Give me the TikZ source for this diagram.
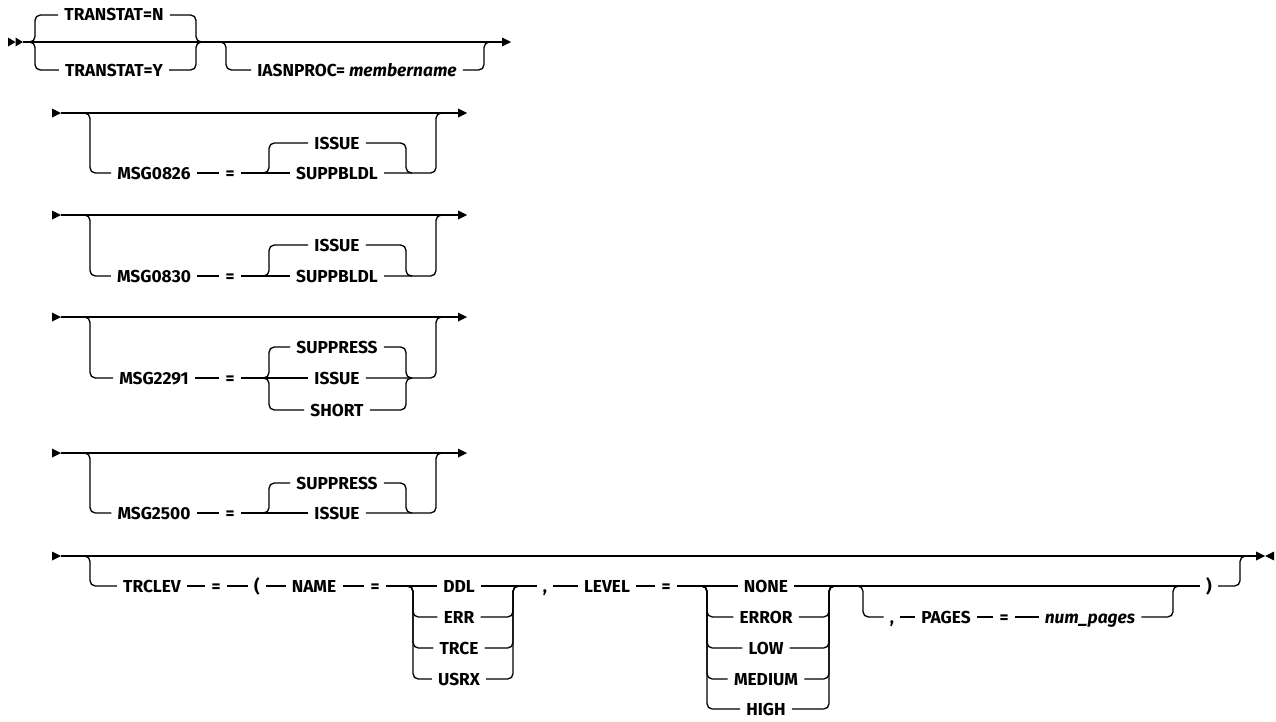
\documentclass[tikz,border=0pt]{standalone}
\usepackage{fontspec}
\setmainfont{Fira Sans}
\newcommand\rtri[1]{\fill (#1) ++(0,-4.5) -- ++(9,4.5) -- ++(-9,4.5) -- cycle;}
\newcommand\ltri[1]{\fill (#1) ++(0,-4.5) -- ++(-9,4.5) -- ++(9,4.5) -- cycle;}
% two-option optional row: id, main y, top y, bottom y, keyword, top option, bottom option
\newcommand\tworow[7]{%
  \coordinate (#1s) at (52,#2);
  \coordinate (#1a) at (61,#2);
  \coordinate (#1e) at (458,#2);
  \rtri{#1s}
  \draw[rail] (#1a) -- (#1e);
  \rtri{#1e}
  \node[lbl] (#1m) at (154,#4) {#5};
  \node[lbl] (#1q) at (230,#4) {=};
  \node[lbl] (#1t) at (337,#3) {#6};
  \node[lbl] (#1b) at (337,#4) {#7};
  \coordinate (#1f) at (84,#2); \coordinate (#1fv) at (90,#2);
  \draw[rail] (#1f) -- (#1fv) |- (#1m.west);
  \draw[rail] (#1m.east) -- (#1q.west);
  \draw[rail] (#1q.east) -- (#1b.west);
  \coordinate (#1g) at (263,#4); \coordinate (#1gv) at (269,#4);
  \draw[rail] (#1g) -- (#1gv) |- (#1t.west);
  \coordinate (#1hv) at (406,#4); \coordinate (#1h) at (412,#4);
  \draw[rail] (#1t.east) -| (#1hv) -- (#1h);
  \coordinate (#1jv) at (436,#2); \coordinate (#1j) at (442,#2);
  \draw[rail] (#1b.east) -| (#1jv) -- (#1j);
}
\begin{document}
\begin{tikzpicture}[x=0.75pt,y=-0.75pt,
  rail/.style={line width=1pt, rounded corners=4pt},
  lbl/.style={font=\bfseries\fontsize{13}{15}\selectfont, inner xsep=4.5pt, inner ysep=0pt,
              text height=9pt, text depth=0pt, anchor=center}]
\useasboundingbox (0,0) rectangle (1276,721);

% ---------- row 1 ----------
\coordinate (s1) at (8,42);
\fill (s1) ++(0,-4.5) -- ++(7.5,4.5) -- ++(-7.5,4.5) -- cycle;
\fill (s1) ++(7.5,-4.5) -- ++(7.5,4.5) -- ++(-7.5,4.5) -- cycle;
\coordinate (s1a) at (23,42);
\coordinate (e1) at (502,42);
\draw[rail] (s1a) -- (e1);
\rtri{e1}
\node[lbl] (tn) at (114,15) {TRANSTAT=N};
\node[lbl] (ty) at (114,70) {TRANSTAT=Y};
\coordinate (f1) at (29,42); \coordinate (f1v) at (35,42);
\draw[rail] (f1) -- (f1v) |- (tn.west);
\draw[rail] (f1) -- (f1v) |- (ty.west);
\coordinate (j1v) at (196,42); \coordinate (j1) at (202,42);
\draw[rail] (tn.east) -| (j1v) -- (j1);
\draw[rail] (ty.east) -| (j1v) -- (j1);
\node[lbl] (ia) at (357,70) {IASNPROC= \textit{membername}};
\coordinate (f2) at (220,42); \coordinate (f2v) at (226,42);
\draw[rail] (f2) -- (f2v) |- (ia.west);
\coordinate (j2v) at (484,42); \coordinate (j2) at (490,42);
\draw[rail] (ia.east) -| (j2v) -- (j2);

% ---------- rows 2, 3, 5 ----------
\tworow{r2}{113}{143}{173}{MSG0826}{ISSUE}{SUPPBLDL}
\tworow{r3}{215}{245}{276}{MSG0830}{ISSUE}{SUPPBLDL}
\tworow{r5}{453}{483}{513}{MSG2500}{SUPPRESS}{ISSUE}

% ---------- row 4 ----------
\coordinate (r4s) at (52,317);
\coordinate (r4a) at (61,317);
\coordinate (r4e) at (458,317);
\rtri{r4s}
\draw[rail] (r4a) -- (r4e);
\rtri{r4e}
\node[lbl] (r4m) at (154,378) {MSG2291};
\node[lbl] (r4q) at (230,378) {=};
\node[lbl] (r4t) at (337,347) {SUPPRESS};
\node[lbl] (r4b) at (337,378) {ISSUE};
\node[lbl] (r4c) at (337,410) {SHORT};
\coordinate (r4f) at (84,317); \coordinate (r4fv) at (90,317);
\draw[rail] (r4f) -- (r4fv) |- (r4m.west);
\draw[rail] (r4m.east) -- (r4q.west);
\draw[rail] (r4q.east) -- (r4b.west);
\coordinate (r4g) at (263,378); \coordinate (r4gv) at (269,378);
\draw[rail] (r4g) -- (r4gv) |- (r4t.west);
\draw[rail] (r4g) -- (r4gv) |- (r4c.west);
\coordinate (r4hv) at (406,378); \coordinate (r4h) at (412,378);
\draw[rail] (r4t.east) -| (r4hv) -- (r4h);
\draw[rail] (r4c.east) -| (r4hv) -- (r4h);
\coordinate (r4jv) at (436,317); \coordinate (r4j) at (442,317);
\draw[rail] (r4b.east) -| (r4jv) -- (r4j);

% ---------- row 6 ----------
\coordinate (r6s) at (52,556);
\coordinate (r6a) at (61,556);
\coordinate (r6e) at (1256,556);
\rtri{r6s}
\draw[rail] (r6a) -- (r6e);
\rtri{r6e}
\coordinate (r6x) at (1274,556);
\ltri{r6x}
% main sequence
\node[lbl] (trc) at (152,586) {TRCLEV};
\node[lbl] (q6a) at (216,586) {=};
\node[lbl] (lp)  at (257,586) {(};
\node[lbl] (nm)  at (314,586) {NAME};
\node[lbl] (q6b) at (375,586) {=};
\node[lbl] (ddl) at (459,586) {DDL};
\node[lbl] (err) at (459,617) {ERR};
\node[lbl] (trce) at (459,648) {TRCE};
\node[lbl] (usrx) at (459,679) {USRX};
\node[lbl] (cm1) at (545,586) {,};
\node[lbl] (lv)  at (607,586) {LEVEL};
\node[lbl] (q6c) at (666,586) {=};
\node[lbl] (none) at (766,586) {NONE};
\node[lbl] (error) at (766,617) {ERROR};
\node[lbl] (low) at (766,648) {LOW};
\node[lbl] (med) at (766,679) {MEDIUM};
\node[lbl] (high) at (766,709) {HIGH};
\node[lbl] (cm2) at (892,617) {,};
\node[lbl] (pg)  at (946,617) {PAGES};
\node[lbl] (q6d) at (1004,617) {=};
\node[lbl] (np)  at (1090,617) {\textit{num\_pages}};
\node[lbl] (rp)  at (1209,586) {)};
% outer optional
\coordinate (r6f) at (84,556); \coordinate (r6fv) at (90,556);
\draw[rail] (r6f) -- (r6fv) |- (trc.west);
\draw[rail] (trc.east) -- (q6a.west);
\draw[rail] (q6a.east) -- (lp.west);
\draw[rail] (lp.east) -- (nm.west);
\draw[rail] (nm.east) -- (q6b.west);
\draw[rail] (q6b.east) -- (ddl.west);
% name choice
\coordinate (n6f) at (407,586); \coordinate (n6fv) at (413,586);
\foreach \o in {err,trce,usrx} \draw[rail] (n6f) -- (n6fv) |- (\o.west);
\coordinate (n6jv) at (513,586); \coordinate (n6j) at (519,586);
\foreach \o in {err,trce,usrx} \draw[rail] (\o.east) -| (n6jv) -- (n6j);
\draw[rail] (ddl.east) -- (cm1.west);
\draw[rail] (cm1.east) -- (lv.west);
\draw[rail] (lv.east) -- (q6c.west);
\draw[rail] (q6c.east) -- (none.west);
% level choice
\coordinate (l6f) at (701,586); \coordinate (l6fv) at (707,586);
\foreach \o in {error,low,med,high} \draw[rail] (l6f) -- (l6fv) |- (\o.west);
\coordinate (l6jv) at (829,586); \coordinate (l6j) at (835,586);
\foreach \o in {error,low,med,high} \draw[rail] (\o.east) -| (l6jv) -- (l6j);
\draw[rail] (none.east) -- (rp.west);
% pages optional
\coordinate (p6f) at (857,586); \coordinate (p6fv) at (863,586);
\draw[rail] (p6f) -- (p6fv) |- (cm2.west);
\draw[rail] (cm2.east) -- (pg.west);
\draw[rail] (pg.east) -- (q6d.west);
\draw[rail] (q6d.east) -- (np.west);
\coordinate (p6jv) at (1173,586); \coordinate (p6j) at (1179,586);
\draw[rail] (np.east) -| (p6jv) -- (p6j);
% outer join
\coordinate (r6jv) at (1240,556); \coordinate (r6j) at (1246,556);
\draw[rail] (rp.east) -| (r6jv) -- (r6j);
\end{tikzpicture}
\end{document}
